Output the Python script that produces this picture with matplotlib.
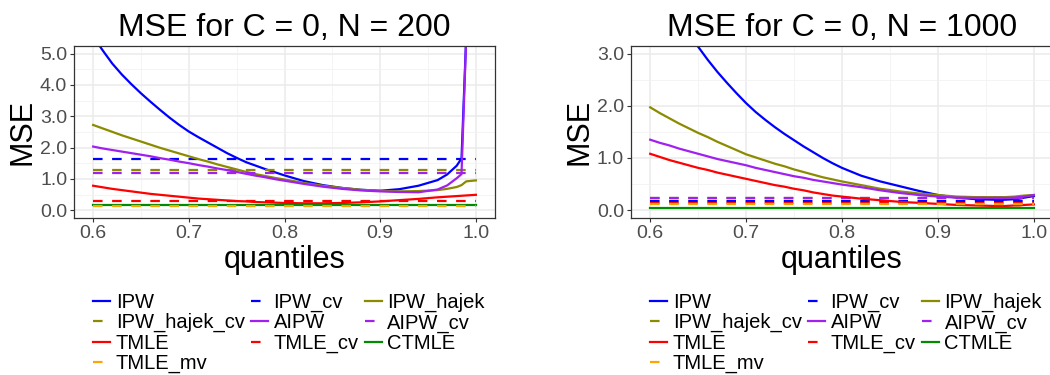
import matplotlib.pyplot as plt
from matplotlib.lines import Line2D

plt.rcParams['font.family'] = ['Liberation Sans', 'DejaVu Sans']

quantiles = [0.60, 0.61, 0.62, 0.63, 0.64, 0.65, 0.66, 0.67, 0.68, 0.69,
             0.70, 0.71, 0.72, 0.73, 0.74, 0.75, 0.76, 0.77, 0.78, 0.79,
             0.80, 0.82, 0.84, 0.86, 0.88, 0.90, 0.92, 0.94, 0.96, 0.97,
             0.98, 0.985, 0.99, 1.00]

# N = 200
ipw_200 = [5.55, 5.10, 4.68, 4.33, 4.02, 3.73, 3.46, 3.20, 2.95, 2.72,
           2.51, 2.33, 2.16, 1.99, 1.82, 1.67, 1.53, 1.42, 1.31, 1.21,
           1.11, 0.93, 0.80, 0.71, 0.65, 0.62, 0.67, 0.78, 0.96, 1.14,
           1.42, 1.65, 5.6, 40.0]
hajek_200 = [2.72, 2.61, 2.50, 2.39, 2.29, 2.19, 2.09, 1.99, 1.90, 1.81,
             1.72, 1.63, 1.55, 1.46, 1.38, 1.30, 1.22, 1.15, 1.09, 1.03,
             0.98, 0.87, 0.78, 0.71, 0.65, 0.62, 0.60, 0.61, 0.64, 0.68,
             0.74, 0.80, 0.92, 0.95]
aipw_200 = [2.03, 1.97, 1.92, 1.87, 1.82, 1.77, 1.72, 1.66, 1.61, 1.55,
            1.50, 1.44, 1.39, 1.33, 1.28, 1.22, 1.16, 1.10, 1.05, 0.99,
            0.94, 0.84, 0.75, 0.68, 0.63, 0.60, 0.58, 0.57, 0.66, 0.79,
            1.02, 1.15, 5.6, 40.0]
tmle_200 = [0.78, 0.73, 0.68, 0.64, 0.60, 0.56, 0.52, 0.49, 0.46, 0.43,
            0.40, 0.37, 0.35, 0.33, 0.31, 0.29, 0.28, 0.26, 0.25, 0.24,
            0.23, 0.22, 0.22, 0.23, 0.25, 0.28, 0.32, 0.36, 0.41, 0.43,
            0.45, 0.46, 0.47, 0.49]
# flat estimators for N = 200: IPW_cv, IPW_hajek_cv, AIPW_cv, TMLE_cv, CTMLE, TMLE_mv
flat_200 = [1.64, 1.27, 1.20, 0.30, 0.18, 0.13]

# N = 1000
ipw_1000 = [4.55, 4.24, 3.95, 3.67, 3.40, 3.13, 2.88, 2.65, 2.44, 2.24,
            2.05, 1.88, 1.73, 1.59, 1.46, 1.34, 1.22, 1.11, 1.00, 0.90,
            0.81, 0.66, 0.55, 0.46, 0.37, 0.29, 0.24, 0.21, 0.20, 0.20,
            0.21, 0.22, 0.24, 0.27]
hajek_1000 = [1.97, 1.86, 1.76, 1.66, 1.57, 1.48, 1.40, 1.31, 1.23, 1.15,
              1.07, 1.01, 0.95, 0.89, 0.84, 0.78, 0.73, 0.68, 0.63, 0.59,
              0.55, 0.48, 0.41, 0.36, 0.32, 0.29, 0.26, 0.25, 0.25, 0.25,
              0.26, 0.27, 0.28, 0.29]
aipw_1000 = [1.35, 1.29, 1.24, 1.18, 1.13, 1.08, 1.03, 0.98, 0.94, 0.90,
             0.86, 0.81, 0.77, 0.73, 0.69, 0.65, 0.62, 0.58, 0.55, 0.52,
             0.49, 0.44, 0.38, 0.33, 0.29, 0.26, 0.24, 0.235, 0.235, 0.235,
             0.24, 0.25, 0.26, 0.29]
tmle_1000 = [1.08, 1.02, 0.96, 0.91, 0.86, 0.81, 0.77, 0.72, 0.68, 0.64,
             0.60, 0.56, 0.52, 0.48, 0.45, 0.41, 0.38, 0.34, 0.31, 0.28,
             0.26, 0.22, 0.19, 0.16, 0.14, 0.12, 0.10, 0.09, 0.08, 0.08,
             0.09, 0.09, 0.10, 0.11]
flat_1000 = [0.185, 0.23, 0.24, 0.14, 0.045, 0.11]

methods = ['IPW', 'IPW_cv', 'IPW_hajek', 'IPW_hajek_cv', 'AIPW', 'AIPW_cv',
           'TMLE', 'TMLE_cv', 'CTMLE', 'TMLE_mv']
colors = ['#0000FF', '#0000FF', '#8B8B00', '#8B8B00', '#A020F0', '#A020F0',
          '#FF0000', '#FF0000', '#008B00', '#FFA500']
dashed = [False, True, False, True, False, True, False, True, False, True]

DASH = (4.3, 4.3)
LW = 1.6


def series(curves, flat):
    n = len(quantiles)
    ipw, hajek, aipw, tmle = curves
    return [ipw, [flat[0]] * n, hajek, [flat[1]] * n, aipw, [flat[2]] * n,
            tmle, [flat[3]] * n, [flat[4]] * n, [flat[5]] * n]


def panel(ax, ys, title, ymax, yticks):
    for y, c, d in zip(ys, colors, dashed):
        if d:
            ax.plot(quantiles, y, color=c, lw=LW, dashes=DASH)
        else:
            ax.plot(quantiles, y, color=c, lw=LW)
    ax.set_xlim(0.58, 1.02)
    ax.set_ylim(-0.05 * ymax, 1.05 * ymax)
    ax.set_xticks([0.6, 0.7, 0.8, 0.9, 1.0])
    ax.set_xticklabels(['0.6', '0.7', '0.8', '0.9', '1.0'])
    ax.set_xticks([0.65, 0.75, 0.85, 0.95], minor=True)
    ax.set_yticks(yticks)
    ax.set_yticklabels(['%.1f' % t for t in yticks])
    ax.set_yticks([t + 0.5 for t in yticks[:-1]], minor=True)
    ax.set_axisbelow(True)
    ax.grid(which='major', color='#EBEBEB', lw=1.1)
    ax.grid(which='minor', color='#F2F2F2', lw=0.6)
    for s in ax.spines.values():
        s.set_color('#333333')
        s.set_linewidth(0.9)
    ax.tick_params(which='major', length=2.75, width=0.8, color='#333333',
                   labelsize=14, labelcolor='#4D4D4D', pad=2.2)
    ax.tick_params(which='minor', length=0)
    ax.set_title(title, fontsize=23, pad=7)
    ax.set_xlabel('quantiles', fontsize=22, labelpad=2)
    ax.set_ylabel('MSE', fontsize=22, labelpad=2)

    handles = [Line2D([], [], color=c, lw=LW, dashes=DASH if d else (None, None))
               for c, d in zip(colors, dashed)]
    order = [0, 3, 6, 9, 1, 4, 7, 2, 5, 8]
    ax.legend([handles[i] for i in order], [methods[i] for i in order],
              ncol=3, loc='upper left', bbox_to_anchor=(0.045, -0.435),
              frameon=False, fontsize=14.5, borderpad=0, borderaxespad=0,
              handlelength=0.85, handletextpad=0.28, columnspacing=0.3,
              labelspacing=0.06)


fig = plt.figure(figsize=(10.5, 3.75), dpi=100)
ax1 = fig.add_axes([74 / 1050, 1 - 218 / 375, 421 / 1050, 172.3 / 375])
ax2 = fig.add_axes([631 / 1050, 1 - 218 / 375, 422 / 1050, 172.3 / 375])

panel(ax1, series([ipw_200, hajek_200, aipw_200, tmle_200], flat_200),
      'MSE for C = 0, N = 200', 5.0, [0, 1, 2, 3, 4, 5])
panel(ax2, series([ipw_1000, hajek_1000, aipw_1000, tmle_1000], flat_1000),
      'MSE for C = 0, N = 1000', 3.0, [0, 1, 2, 3])

fig.savefig('out.png', dpi=100)
